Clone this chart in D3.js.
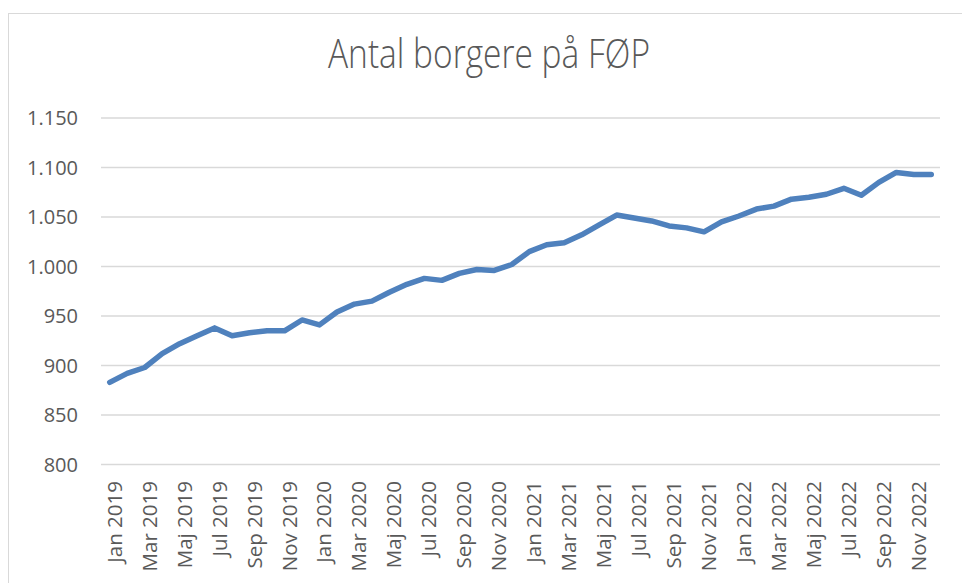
<!DOCTYPE html>
<html lang="da">
<head>
<meta charset="UTF-8">
<title>Antal borgere på FØP</title>
<script src="https://d3js.org/d3.v7.min.js"></script>
<style>
  body { margin: 0; background: #fff; }
  svg { display: block; }
  .grid line { stroke: #d9d9d9; stroke-width: 1.5px; }
  .ylab text { font-family: "Open Sans", sans-serif; font-size: 20px; fill: #595959; }
  .xlab text { font-family: "Open Sans", sans-serif; font-size: 20.5px; fill: #595959; }
  .title { font-family: "Open Sans", sans-serif; font-weight: 300; font-size: 40px; fill: #595959; }
</style>
</head>
<body>
<svg width="962" height="583"></svg>
<script>
const months = ["Jan", "Feb", "Mar", "Apr", "Maj", "Jun", "Jul", "Aug", "Sep", "Okt", "Nov", "Dec"];
const years = [2019, 2020, 2021, 2022];
const categories = years.flatMap(y => months.map(m => m + " " + y));

const borgere = [
  883, 892, 898, 912, 922, 930, 938, 930, 933, 935, 935, 946,
  941, 954, 962, 965, 974, 982, 988, 986, 993, 997, 996, 1002,
  1015, 1022, 1024, 1032, 1042, 1052, 1049, 1046, 1041, 1039, 1035, 1045,
  1051, 1058, 1061, 1068, 1070, 1073, 1079, 1072, 1085, 1095, 1093, 1093
];

const yTicks = [800, 850, 900, 950, 1000, 1050, 1100, 1150];

const svg = d3.select("svg");
const plot = { left: 101, right: 940, top: 118, bottom: 464.5 };

// chart frame
svg.append("rect")
  .attr("x", 8.5).attr("y", 13.5)
  .attr("width", 1000).attr("height", 1000)
  .attr("fill", "none").attr("stroke", "#d9d9d9");

svg.append("text")
  .attr("class", "title")
  .attr("x", 328).attr("y", 68)
  .attr("textLength", 322)
  .attr("lengthAdjust", "spacingAndGlyphs")
  .text("Antal borgere på FØP");

const x = d3.scaleBand().domain(categories).range([plot.left, plot.right]);
const y = d3.scaleLinear().domain([800, 1150]).range([plot.bottom, plot.top]);

const fmt = d => d3.format(",")(d).replace(/,/g, ".");

svg.append("g").attr("class", "grid")
  .selectAll("line").data(yTicks).enter().append("line")
  .attr("x1", plot.left).attr("x2", plot.right)
  .attr("y1", d => y(d)).attr("y2", d => y(d));

svg.append("g").attr("class", "ylab")
  .selectAll("text").data(yTicks).enter().append("text")
  .attr("x", 78).attr("y", d => y(d))
  .attr("dy", "0.35em")
  .attr("text-anchor", "end")
  .text(fmt);

svg.append("g").attr("class", "xlab")
  .selectAll("text").data(categories.filter((d, i) => i % 2 === 0)).enter().append("text")
  .attr("transform", d => `translate(${x(d) + x.bandwidth() / 2 + 12},481) rotate(-90)`)
  .attr("text-anchor", "end")
  .text(d => d);

const line = d3.line()
  .x((d, i) => x(categories[i]) + x.bandwidth() / 2)
  .y(d => y(d));

svg.append("path")
  .datum(borgere)
  .attr("d", line)
  .attr("fill", "none")
  .attr("stroke", "#4f81bd")
  .attr("stroke-width", 5.5)
  .attr("stroke-linejoin", "round")
  .attr("stroke-linecap", "round");
</script>
</body>
</html>
